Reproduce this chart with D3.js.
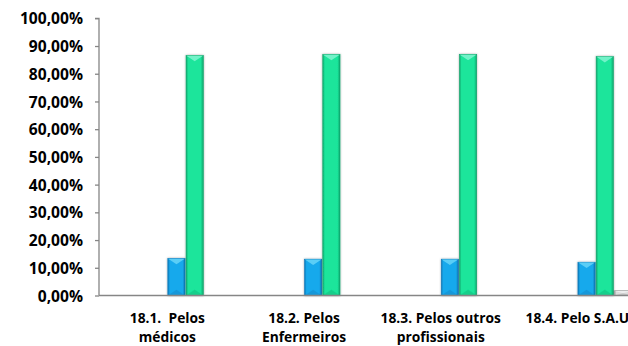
<!DOCTYPE html>
<html><head><meta charset="utf-8">
<script src="https://cdn.jsdelivr.net/npm/d3@7"></script>
<style>html,body{margin:0;padding:0;background:#fff;overflow:hidden}svg{display:block}</style>
</head><body>
<svg id="chart" width="628" height="346"></svg>
<script>
const categories = [["18.1.  Pelos","médicos"],["18.2. Pelos","Enfermeiros"],["18.3. Pelos outros","profissionais"],["18.4. Pelo S.A.U",""]];
const seriesNames = ["Muito insatisfeito","Insatisfeito","Nem satisfeito nem insatisfeito","Satisfeito","Muito satisfeito","Não responde"];
const s1 = [0,0,0,0];
const s2 = [0,0,0,0];
const s3 = [0,0,0,0];
const s4 = [0.134,0.131,0.131,0.120];
const s5 = [0.866,0.870,0.870,0.862];
const s6 = [0,0,0,0.017];
const seriesValues = [s1,s2,s3,s4,s5,s6];
const yTicks = [0,0.1,0.2,0.3,0.4,0.5,0.6,0.7,0.8,0.9,1.0];
const colors = [
  {main:"#a0a0a0",dark:"#707070",light:"#c8c8c8"},
  {main:"#a0a0a0",dark:"#707070",light:"#c8c8c8"},
  {main:"#a0a0a0",dark:"#707070",light:"#c8c8c8"},
  {main:"#17a9ec",dark:"#0b78b8",light:"#62d2f7"},
  {main:"#1ae59b",dark:"#0fa56c",light:"#7cf3cd"},
  {main:"#dcdcdc",dark:"#9a9a9a",light:"#efefef"}
];

const svg = d3.select("#chart");
const font = "'Open Sans', Lato, sans-serif";
const x0 = d3.scaleBand().domain(d3.range(categories.length)).range([99, 645.8]).paddingInner(0.2).paddingOuter(0.1);
const x1 = d3.scaleBand().domain(d3.range(seriesNames.length)).range([0, x0.bandwidth()]);
const y = d3.scaleLinear().domain([0,1]).range([295.5, 18.3]);

const defs = svg.append("defs");
colors.forEach((c,i)=>{
  const g = defs.append("linearGradient").attr("id","g"+i).attr("x1","0").attr("x2","1").attr("y1","0").attr("y2","0");
  g.append("stop").attr("offset","0").attr("stop-color",c.dark);
  g.append("stop").attr("offset","0.12").attr("stop-color",c.main);
  g.append("stop").attr("offset","0.85").attr("stop-color",c.main);
  g.append("stop").attr("offset","1").attr("stop-color",c.dark);
});
const f = defs.append("filter").attr("id","sh").attr("x","-30%").attr("y","-5%").attr("width","160%").attr("height","110%");
f.append("feGaussianBlur").attr("in","SourceAlpha").attr("stdDeviation","1.2").attr("result","b");
f.append("feOffset").attr("in","b").attr("dx","0").attr("dy","0").attr("result","o");
f.append("feComponentTransfer").attr("in","o").attr("result","o2").append("feFuncA").attr("type","linear").attr("slope","0.35");
const m = f.append("feMerge"); m.append("feMergeNode").attr("in","o2"); m.append("feMergeNode").attr("in","SourceGraphic");

// y axis
const yAxis = d3.axisLeft(y).tickValues(yTicks).tickSize(4).tickFormat(d => d3.format(".2f")(d*100).replace(".",",")+"%");
const ya = svg.append("g").attr("transform","translate(99,0)").call(yAxis);
ya.select(".domain").attr("stroke","#868686").attr("stroke-width",1.3).attr("d","M-4,18.3H0V295.5");
ya.selectAll(".tick line").attr("stroke","#868686").attr("stroke-width",1.3);
ya.selectAll(".tick text").attr("x",-16).attr("dy","0.36em").attr("font-family",font).attr("font-weight","bold").attr("font-size","15.6px").attr("fill","#000");

// bars
const groups = svg.append("g").selectAll("g").data(categories).join("g")
  .attr("transform",(d,i)=>`translate(${x0(i)},0)`);
groups.each(function(c,ci){
  const g = d3.select(this);
  seriesValues.forEach((vals,si)=>{
    const v = vals[ci];
    if(!v) return;
    const bx = x1(si), bw = x1.bandwidth();
    const top = y(v), h = y(0)-top;
    const col = colors[si];
    const bg = g.append("g").attr("filter","url(#sh)");
    bg.append("rect").attr("x",bx+0.5).attr("y",top).attr("width",bw-1).attr("height",h)
      .attr("fill",`url(#g${si})`).attr("stroke",col.dark).attr("stroke-width",0.6);
    const bev = Math.min(bw*0.32, h/2);
    bg.append("path").attr("d",`M${bx+0.8},${top+0.3}L${bx+bw-0.8},${top+0.3}L${bx+bw/2},${top+bev}Z`).attr("fill",col.light).attr("opacity",0.9);
    bg.append("path").attr("d",`M${bx+0.8},${y(0)-0.3}L${bx+bw-0.8},${y(0)-0.3}L${bx+bw/2},${y(0)-bev}Z`).attr("fill",col.dark).attr("opacity",0.35);
  });
});

// x axis baseline
svg.append("line").attr("x1",99).attr("x2",650).attr("y1",y(0)).attr("y2",y(0)).attr("stroke","#868686").attr("stroke-width",1.5);

// category labels
const lab = svg.append("g").selectAll("text").data(categories).join("text")
  .attr("x",(d,i)=>x0(i)+x0.bandwidth()/2).attr("y",323)
  .attr("text-anchor","middle").attr("font-family",font).attr("font-weight","bold").attr("font-size","13.8px").attr("fill","#000")
  .style("white-space","pre");
lab.each(function(d){
  const t = d3.select(this);
  d.forEach((line,li)=>{ if(line) t.append("tspan").attr("x",t.attr("x")).attr("y",323+li*18.5).text(line); });
});
</script>
</body></html>
